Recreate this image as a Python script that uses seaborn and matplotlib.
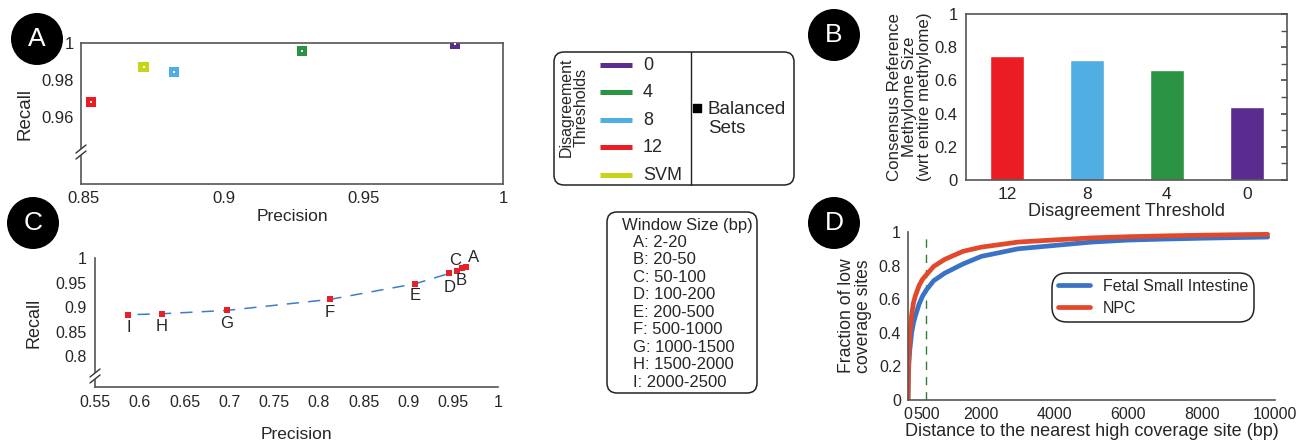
import matplotlib

matplotlib.use("Agg")

import matplotlib.pyplot as plt
import numpy as np
import seaborn as sns
from matplotlib.lines import Line2D
from matplotlib.patches import Ellipse, FancyBboxPatch

# ---- panel A: balanced sets, precision vs recall per disagreement threshold
thr_labels = ["0", "4", "8", "12", "SVM"]
thr_colors = ["#5b2c90", "#2a9442", "#51aee3", "#ec1c24", "#c8d41a"]
a_precision = [0.9829, 0.9281, 0.8823, 0.8525, 0.8714]
a_recall = [0.9996, 0.9956, 0.9843, 0.9680, 0.9869]

# ---- panel B: consensus reference methylome size
b_thresholds = ["12", "8", "4", "0"]
b_size = [0.75, 0.72, 0.665, 0.44]
b_colors = ["#ec1c24", "#51aee3", "#2a9442", "#5b2c90"]

# ---- panel C: window size
c_labels = ["A", "B", "C", "D", "E", "F", "G", "H", "I"]
c_windows = ["2-20", "20-50", "50-100", "100-200", "200-500",
             "500-1000", "1000-1500", "1500-2000", "2000-2500"]
c_precision = [0.9641, 0.9593, 0.9538, 0.9456, 0.9078, 0.8122, 0.6971, 0.6249, 0.5874]
c_recall = [0.9810, 0.9789, 0.9742, 0.9687, 0.9478, 0.9159, 0.8935, 0.8868, 0.8848]

# ---- panel D: distance to nearest high coverage site (cumulative fraction)
d_distance = [0, 10, 25, 50, 100, 150, 200, 300, 400, 500, 700, 1000, 1500,
              2000, 3000, 4000, 5000, 6000, 7000, 8000, 9000, 9800]
d_fsi = [0, 0.12, 0.22, 0.30, 0.40, 0.46, 0.50, 0.57, 0.62, 0.655, 0.71, 0.755,
         0.81, 0.855, 0.90, 0.92, 0.94, 0.952, 0.958, 0.963, 0.967, 0.970]
d_npc = [0, 0.16, 0.29, 0.39, 0.51, 0.58, 0.62, 0.68, 0.72, 0.745, 0.795, 0.837,
         0.885, 0.91, 0.94, 0.953, 0.965, 0.972, 0.977, 0.981, 0.984, 0.986]

sns.set_theme(style="white")
plt.rcParams["font.family"] = ["Liberation Sans", "DejaVu Sans"]
plt.rcParams["text.color"] = "#262626"
plt.rcParams["axes.labelcolor"] = "#262626"
plt.rcParams["xtick.color"] = "#4d4d4d"
plt.rcParams["ytick.color"] = "#4d4d4d"
plt.rcParams["xtick.labelcolor"] = "#262626"
plt.rcParams["ytick.labelcolor"] = "#262626"
plt.rcParams["axes.edgecolor"] = "#555555"
plt.rcParams["axes.linewidth"] = 1.2

W, H = 1298, 440
fig = plt.figure(figsize=(W / 100, H / 100), dpi=100)


def rect(l, t, r, b):
    return [l / W, 1 - b / H, (r - l) / W, (b - t) / H]


def fig_line(xs, ys, **kw):
    fig.add_artist(Line2D([x / W for x in xs], [1 - y / H for y in ys],
                          transform=fig.transFigure, **kw))


def axis_break(x, y):
    # white gap over the spine, then two slanted strokes
    fig_line([x - 4, x + 4], [y + 3, y - 3], color="white", lw=4)
    fig_line([x - 5, x + 5], [y + 1, y - 7], color="#333333", lw=1)
    fig_line([x - 5, x + 5], [y + 7, y - 1], color="#333333", lw=1)


def fmt(v):
    return f"{v:g}"


# ================= A =================
axA = fig.add_axes(rect(81, 43, 503, 184))
sns.scatterplot(x=a_precision, y=a_recall, hue=thr_labels, palette=thr_colors,
                marker="s", s=55, linewidth=0, legend=False, ax=axA)
axA.scatter(a_precision, a_recall, s=2, c="white", marker="s", linewidths=0, zorder=3)
axA.set_xlim(0.849, 1.0)
axA.set_ylim(0.9235, 1.0)
axA.set_xticks([0.85, 0.9, 0.95, 1.0], ["0.85", "0.9", "0.95", "1"])
axA.set_yticks([0.96, 0.98, 1.0], ["0.96", "0.98", "1"])
axA.set_yticks([0.97, 0.99], minor=True)
axA.tick_params(which="both", direction="in", length=4, labelsize=12, pad=5)
axA.set_xlabel("Precision", fontsize=12.5, labelpad=2)
axA.set_ylabel("Recall", fontsize=13.5, labelpad=6)
axis_break(81, 152)

# legend A
lax = fig.add_axes(rect(553, 51, 795, 186))
lax.set_xlim(553, 795)
lax.set_ylim(186, 51)
lax.axis("off")
lax.add_patch(FancyBboxPatch((554, 52), 240, 133, boxstyle="round,pad=0,rounding_size=10",
                             fc="white", ec="#222222", lw=1.1, clip_on=False))
lax.plot([691, 691], [52, 185], color="#222222", lw=1)
lax.text(574, 107, "Disagreement\nThresholds", rotation=90, ha="center", va="center",
         fontsize=11.5, linespacing=1.0)
for i, (lab, col) in enumerate(zip(thr_labels, thr_colors)):
    yy = 65 + i * 27.5
    lax.plot([600, 632], [yy, yy], color=col, lw=3.6, solid_capstyle="butt")
    lax.text(643, yy, lab, ha="left", va="center", fontsize=13)
lax.scatter([697], [108], marker="s", s=30, c="black")
lax.text(708, 119, "Balanced\nSets", ha="left", va="center", fontsize=13.5, linespacing=1.1)

# ================= B =================
axB = fig.add_axes(rect(966, 14, 1287, 180))
sns.barplot(x=b_thresholds, y=b_size, hue=b_thresholds, palette=b_colors,
            order=b_thresholds, hue_order=b_thresholds, width=0.43,
            saturation=1, legend=False, ax=axB)
axB.set_xlim(-0.51, 3.5)
axB.set_ylim(0, 1)
axB.set_yticks(np.arange(0, 1.01, 0.2), [fmt(round(v, 1)) for v in np.arange(0, 1.01, 0.2)])
axB.set_yticks(np.arange(0.1, 1.0, 0.2), minor=True)
axB.tick_params(which="both", direction="in", length=4, labelsize=12, right=True, pad=6)
axB.tick_params(axis="x", length=0, pad=5, labelsize=12.5)
axB.set_xlabel("Disagreement Threshold", fontsize=13, labelpad=1)
axB.set_ylabel("Consensus Reference\nMethylome Size\n(wrt entire methylome)",
               fontsize=12.2, labelpad=2, linespacing=1.0)

# ================= C =================
axC = fig.add_axes(rect(95, 258, 498, 387))
sns.lineplot(x=c_precision, y=c_recall, sort=False, color="#3d7cc9", lw=1.1,
             linestyle=(0, (8, 6)), ax=axC)
sns.scatterplot(x=c_precision, y=c_recall, marker="s", s=22, color="#e8202a",
                linewidth=0, ax=axC, zorder=3)
c_offsets = {"A": (8, 10), "B": (0, -12), "C": (-2, 10), "D": (0, -14), "E": (0, -12),
             "F": (0, -13), "G": (0, -13), "H": (0, -13), "I": (0, -13)}
for lab, px, rc in zip(c_labels, c_precision, c_recall):
    axC.annotate(lab, (px, rc), xytext=c_offsets[lab], textcoords="offset pixels",
                 ha="center", va="center", fontsize=12)
axC.set_xlim(0.55, 1.0)
axC.set_ylim(0.738, 1.0)
xt = np.round(np.arange(0.55, 1.001, 0.05), 2)
axC.set_xticks(xt, [fmt(v) for v in xt])
yt = np.round(np.arange(0.8, 1.001, 0.05), 2)
axC.set_yticks(yt, [fmt(v) for v in yt])
axC.spines[["top", "right"]].set_visible(False)
axC.tick_params(which="both", direction="in", length=4, labelsize=11.5, pad=6)
axC.set_xlabel("Precision", fontsize=12.5, labelpad=12)
axC.set_ylabel("Recall", fontsize=13, labelpad=9)
axis_break(95, 376)

# legend C
cax = fig.add_axes(rect(607, 212, 757, 393))
cax.set_xlim(607, 757)
cax.set_ylim(393, 212)
cax.axis("off")
cax.add_patch(FancyBboxPatch((607, 212), 150, 181, boxstyle="round,pad=0,rounding_size=10",
                             fc="white", ec="#222222", lw=1.1, clip_on=False))
cax.text(622, 225, "Window Size (bp)", ha="left", va="center", fontsize=12)
for i, (lab, win) in enumerate(zip(c_labels, c_windows)):
    cax.text(633, 242 + i * 17.5, f"{lab}: {win}", ha="left", va="center", fontsize=12)

# ================= D =================
axD = fig.add_axes(rect(908, 232, 1275, 400))
sns.lineplot(x=d_distance, y=d_fsi, color="#3a73c5", lw=3.4, label="Fetal Small Intestine", ax=axD)
sns.lineplot(x=d_distance, y=d_npc, color="#e2492a", lw=3.4, label="NPC", ax=axD)
axD.axvline(500, color="#2e7d32", lw=1, linestyle=(0, (6, 5)), zorder=0)
axD.set_xlim(0, 10000)
axD.set_ylim(0, 1)
axD.set_xticks([0, 500, 2000, 4000, 6000, 8000, 10000],
               ["0", "500", "2000", "4000", "6000", "8000", "10000"])
axD.set_xticks([1000, 3000, 5000, 7000, 9000], minor=True)
axD.set_yticks(np.arange(0, 1.01, 0.2), [fmt(round(v, 1)) for v in np.arange(0, 1.01, 0.2)])
axD.set_yticks(np.arange(0.1, 1.0, 0.2), minor=True)
axD.spines[["top", "right"]].set_visible(False)
axD.tick_params(which="both", direction="in", length=4, labelsize=11.5, pad=5)
axD.set_xlabel("Distance to the nearest high coverage site (bp)", fontsize=13, labelpad=1)
axD.set_ylabel("Fraction of low\ncoverage sites", fontsize=12.7, labelpad=5, linespacing=1.0)
leg = axD.legend(loc="upper left", bbox_to_anchor=(0.393, 0.755), fontsize=11.5,
                 handlelength=2.0, handletextpad=0.8, borderpad=0.35, labelspacing=0.45,
                 fancybox=True, edgecolor="#222222", framealpha=1, borderaxespad=0)
leg.get_frame().set_linewidth(1.1)
leg.get_frame().set_boxstyle("round,pad=0,rounding_size=0.9")

# ---- panel letters
for letter, cx, cy in [("A", 37, 39), ("B", 834, 35), ("C", 33, 223), ("D", 834, 223)]:
    fig.add_artist(Ellipse((cx / W, 1 - cy / H), 52 / W, 52 / H, transform=fig.transFigure,
                           fc="black", ec="none"))
    fig.text(cx / W, 1 - cy / H, letter, color="white", fontsize=19, ha="center", va="center")

fig.savefig("out.png", dpi=100)
